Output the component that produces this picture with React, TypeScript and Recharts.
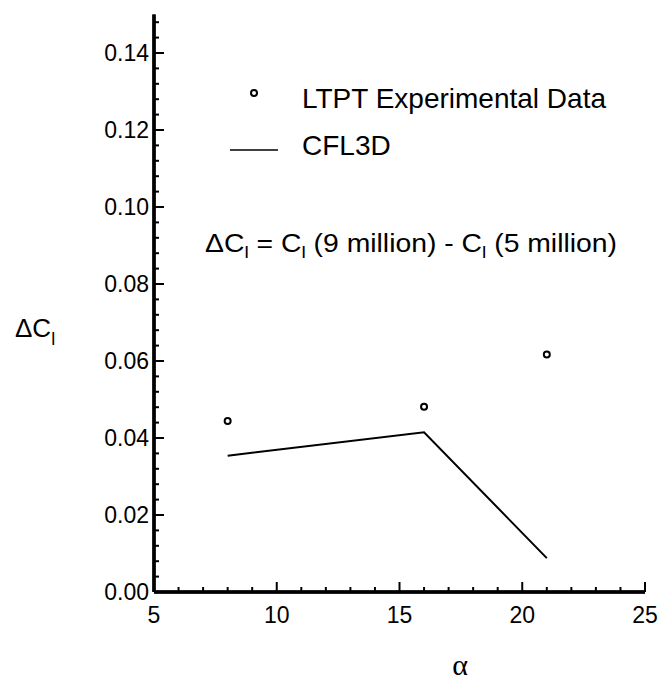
import React from 'react';
import { ComposedChart, Line, XAxis, YAxis, Legend, Customized, ReferenceLine } from 'recharts';

// ---- data ----
const alphaValues = [8, 16, 21];
const ltptDeltaCl = [0.0444, 0.0481, 0.0617];
const cfl3dDeltaCl = [0.0354, 0.0415, 0.0088];

const seriesNames = ['LTPT Experimental Data', 'CFL3D'];

const xMajorTicks = [5, 10, 15, 20, 25];
const xAllTicks = [5, 6, 7, 8, 9, 10, 11, 12, 13, 14, 15, 16, 17, 18, 19, 20, 21, 22, 23, 24, 25];
const yMajorTicks = [0, 0.02, 0.04, 0.06, 0.08, 0.1, 0.12, 0.14];
const yAllTicks = [
  0, 0.004, 0.008, 0.012, 0.016, 0.02, 0.024, 0.028, 0.032, 0.036, 0.04, 0.044, 0.048,
  0.052, 0.056, 0.06, 0.064, 0.068, 0.072, 0.076, 0.08, 0.084, 0.088, 0.092, 0.096, 0.1,
  0.104, 0.108, 0.112, 0.116, 0.12, 0.124, 0.128, 0.132, 0.136, 0.14, 0.144, 0.148,
];

const data = alphaValues.map((a, i) => ({ alpha: a, ltpt: ltptDeltaCl[i], cfl3d: cfl3dDeltaCl[i] }));

const FONT = '"Liberation Sans", Arial, Helvetica, sans-serif';
const SERIF = '"Liberation Serif", "Times New Roman", serif';

const isMajor = (v: number, majors: number[]) => majors.some((m) => Math.abs(m - v) < 1e-9);

const XTick = (props: any) => {
  const { x, y, payload } = props;
  const major = isMajor(payload.value, xMajorTicks);
  return (
    <g>
      <line x1={x} y1={y} x2={x} y2={y - (major ? 10 : 5)} stroke="#000" strokeWidth={2} />
      {major && (
        <text x={x} y={y + 31} textAnchor="middle" fontSize={23} fontFamily={FONT} fill="#000">
          {payload.value}
        </text>
      )}
    </g>
  );
};

const YTick = (props: any) => {
  const { x, y, payload } = props;
  const major = isMajor(payload.value, yMajorTicks);
  return (
    <g>
      <line x1={x} y1={y} x2={x + (major ? 10 : 5)} y2={y} stroke="#000" strokeWidth={2} />
      {major && (
        <text x={x - 5} y={y + 8} textAnchor="end" fontSize={23} fontFamily={FONT} fill="#000">
          {Number(payload.value).toFixed(2)}
        </text>
      )}
    </g>
  );
};

const XLabel = (props: any) => {
  const vb = props.viewBox || { x: 154, y: 592 };
  return (
    <text x={vb.x + 306} y={vb.y + 83} textAnchor="middle" fontSize={30} fontFamily={SERIF} fill="#000">
      α
    </text>
  );
};

const YLabel = (props: any) => {
  const vb = props.viewBox || { x: 64, y: 14.5 };
  return (
    <text x={vb.x - 49} y={vb.y + 322.5} fontSize={26} fontFamily={FONT} fill="#000">
      ΔC
      <tspan fontSize={18} dy={8}>l</tspan>
    </text>
  );
};

const Equation = () => (
  <text x={205} y={252} fontSize={25} fontFamily={FONT} fill="#000" textLength={412} lengthAdjust="spacingAndGlyphs">
    ΔC<tspan fontSize={17} dy={6}>l</tspan>
    <tspan dy={-6}> = C</tspan>
    <tspan fontSize={17} dy={6}>l</tspan>
    <tspan dy={-6}> (9 million) - C</tspan>
    <tspan fontSize={17} dy={6}>l</tspan>
    <tspan dy={-6}> (5 million)</tspan>
  </text>
);

const LegendContent = () => (
  <svg width={430} height={100} style={{ overflow: 'visible', display: 'block' }}>
    <circle cx={34} cy={18} r={3} fill="#fff" stroke="#000" strokeWidth={2} />
    <text x={82} y={33} fontSize={28} fontFamily={FONT} fill="#000">{seriesNames[0]}</text>
    <line x1={10} y1={75} x2={58} y2={75} stroke="#000" strokeWidth={1.5} />
    <text x={82} y={80} fontSize={28} fontFamily={FONT} fill="#000">{seriesNames[1]}</text>
  </svg>
);

export default function App() {
  return (
    <div style={{ position: 'absolute', left: 0, top: 0, width: 662, height: 683, background: '#fff' }}>
      <ComposedChart
        width={662}
        height={683}
        data={data}
        margin={{ top: 14.5, right: 17, bottom: 31, left: 64 }}
      >
        <XAxis
          dataKey="alpha"
          type="number"
          domain={[5, 25]}
          ticks={xAllTicks}
          interval={0}
          tickSize={0}
          tickMargin={0}
          tickLine={false}
          height={60}
          axisLine={{ stroke: '#000', strokeWidth: 3 }}
          tick={<XTick />}
          label={<XLabel />}
        />
        <YAxis
          type="number"
          domain={[0, 0.15]}
          ticks={yAllTicks}
          interval={0}
          tickSize={0}
          tickMargin={0}
          tickLine={false}
          width={90}
          axisLine={{ stroke: '#000', strokeWidth: 3 }}
          tick={<YTick />}
          label={<YLabel />}
          allowDataOverflow
        />
        <ReferenceLine x={5} stroke="#000" strokeWidth={3.5} ifOverflow="visible" />
        <ReferenceLine y={0} stroke="#000" strokeWidth={3.5} ifOverflow="visible" />
        <Line
          dataKey="cfl3d"
          name={seriesNames[1]}
          stroke="#000"
          strokeWidth={2}
          dot={false}
          activeDot={false}
          isAnimationActive={false}
          type="linear"
        />
        <Line
          dataKey="ltpt"
          name={seriesNames[0]}
          stroke="none"
          dot={{ r: 3, fill: '#fff', stroke: '#000', strokeWidth: 2 }}
          activeDot={false}
          isAnimationActive={false}
          type="linear"
        />
        <Legend
          layout="vertical"
          align="center"
          verticalAlign="middle"
          content={<LegendContent />}
          wrapperStyle={{ position: 'absolute', left: 220, top: 75, width: 430, height: 100 }}
        />
        <Customized component={Equation} />
      </ComposedChart>
    </div>
  );
}
